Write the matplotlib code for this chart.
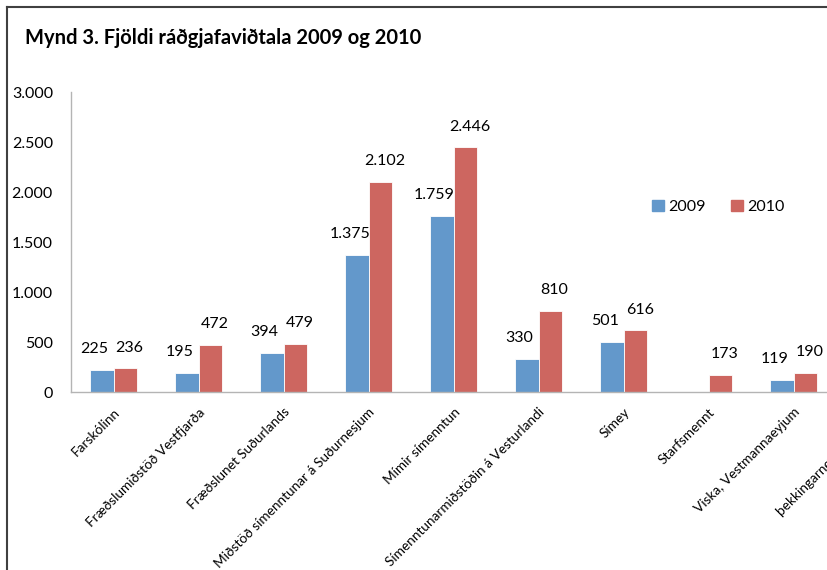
import numpy as np
import matplotlib.pyplot as plt
from matplotlib.lines import Line2D
from matplotlib.patches import Patch

plt.rcParams['font.family'] = ['Lato', 'DejaVu Sans']

categories = ["Farskólinn", "Fræðslumiðstöð Vestfjarða", "Fræðslunet Suðurlands",
              "Miðstöð símenntunar á Suðurnesjum", "Mímir símenntun",
              "Símenntunarmiðstöðin á Vesturlandi", "Símey", "Starfsmennt",
              "Viska, Vestmannaeyjum", "þekkingarnet Þingeyinga"]
values_2009 = [225, 195, 394, 1375, 1759, 330, 501, np.nan, 119, np.nan]
values_2010 = [236, 472, 479, 2102, 2446, 810, 616, 173, 190, np.nan]
years = ["2009", "2010"]

blue = '#6398CB'
red = '#CD6660'


def fmt(v):
    return '{:,.0f}'.format(v).replace(',', '.')


fig = plt.figure(figsize=(8.27, 5.70), dpi=100)
# plot area runs past the right edge, like the cropped original
ax = fig.add_axes([71 / 827, 178 / 570, 850 / 827, 300 / 570])

x = np.arange(len(categories))
w = 0.282
# labels nudged apart a little so neighbouring values don't collide
for vals, off, col, dx in [(values_2009, -w / 2, blue, -5), (values_2010, w / 2, red, 3)]:
    ax.bar(x + off, vals, width=w, color=col, edgecolor='white', linewidth=0.6)
    for xi, v in zip(x + off, vals):
        if not np.isnan(v):
            ax.annotate(fmt(v), (xi, v), xytext=(dx, 15), textcoords='offset points',
                        ha='center', va='center', fontsize=11.5)

ax.set_xlim(-0.5, len(categories) - 0.5)
ax.set_ylim(0, 3000)
ax.set_yticks([0, 500, 1000, 1500, 2000, 2500, 3000])
ax.set_yticklabels([fmt(t) for t in ax.get_yticks()], fontsize=11.5)
ax.tick_params(axis='y', length=0, pad=13)
ax.set_xticks(x)
ax.set_xticklabels(categories, rotation=45, ha='right', rotation_mode='anchor', fontsize=9.8)
ax.tick_params(axis='x', length=0, pad=10)

for s in ['top', 'right']:
    ax.spines[s].set_visible(False)
for s in ['left', 'bottom']:
    ax.spines[s].set_color('#B4B4B4')
    ax.spines[s].set_linewidth(1)

handles = [Patch(color=blue), Patch(color=red)]
fig.legend(handles, years, loc='center left', bbox_to_anchor=(638 / 827, 1 - 207 / 570),
           ncol=2, frameon=False, fontsize=11.5, handlelength=0.7, handleheight=0.7,
           handletextpad=0.3, columnspacing=1.6)

fig.text(25 / 827, 1 - 38 / 570, "Mynd 3. Fjöldi ráðgjafaviðtala 2009 og 2010",
         fontsize=14.5, fontweight='bold', va='center', ha='left')

# chart border (top and left edges visible)
fig.add_artist(Line2D([6.5 / 827, 1], [1 - 6.5 / 570, 1 - 6.5 / 570], color='#404040', lw=1.5))
fig.add_artist(Line2D([6.5 / 827, 6.5 / 827], [0, 1 - 6.5 / 570], color='#404040', lw=1.5))

fig.savefig('out.png', dpi=100)
